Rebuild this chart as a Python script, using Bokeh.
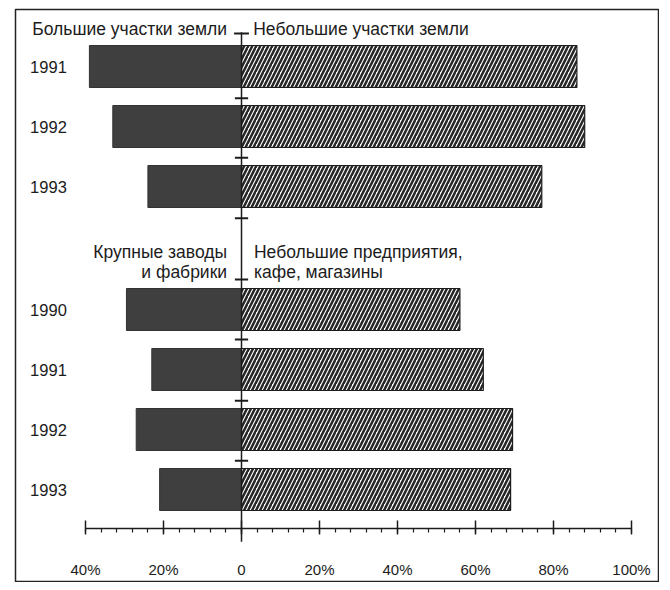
from bokeh.plotting import figure
from bokeh.models import Range1d, FixedTicker
from bokeh.embed import file_html
from bokeh.resources import INLINE
from bokeh.core.properties import value

# ---- data ----
years_land = ["1991", "1992", "1993"]
large_land = [39, 33, 24]          # Большие участки земли, %
small_land = [86, 88, 77]          # Небольшие участки земли, %
years_biz = ["1990", "1991", "1992", "1993"]
large_biz = [29.5, 23, 27, 21]     # Крупные заводы и фабрики, %
small_biz = [56, 62, 69.5, 69]     # Небольшие предприятия, кафе, магазины, %
tick_values = [-40, -20, 0, 20, 40, 60, 80, 100]
tick_labels = ["40%", "20%", "0", "20%", "40%", "60%", "80%", "100%"]
head_land_left = ["Большие участки земли"]
head_land_right = ["Небольшие участки земли"]
head_biz_left = ["Крупные заводы", "и фабрики"]
head_biz_right = ["Небольшие предприятия,", "кафе, магазины"]

# ---- layout ----
ys_land = [0, 1, 2]
ys_biz = [4.05, 5.05, 6.05, 7.05]
FONT = value("Liberation Sans")
INK = "#1c1c1c"

p = figure(width=659, height=582, output_backend="svg", toolbar_location=None,
           x_range=Range1d(-57.95, 107.18), y_range=Range1d(8.6, -0.95),
           min_border=0, min_border_left=15, min_border_top=9)
p.grid.visible = False
p.yaxis.visible = False
p.background_fill_color = "white"
p.border_fill_color = "white"
p.outline_line_color = "#222222"
p.outline_line_width = 1.5

dark = dict(fill_color="#3f3f3f", line_color="#333333", line_width=1)
hatch = dict(fill_color="white", line_color="#1c1c1c", line_width=1.2,
             hatch_pattern="right_diagonal_line", hatch_color="#262626", hatch_scale=8, hatch_weight=2.5)

p.hbar(y=ys_land, left=[-v for v in large_land], right=0, height=0.7, **dark)
p.hbar(y=ys_land, left=0, right=small_land, height=0.7, **hatch)
p.hbar(y=ys_biz, left=[-v for v in large_biz], right=0, height=0.7, **dark)
p.hbar(y=ys_biz, left=0, right=small_biz, height=0.7, **hatch)

# central zero line and its separators
p.segment(x0=[0], y0=[-0.57], x1=[0], y1=[7.92], line_color=INK, line_width=1.5)
sep_y = [-0.55, 0.53, 1.52, 2.53, 3.55, 4.55, 5.57, 6.57]
sep_w = [1.9] + [1.7] * (len(sep_y) - 1)
p.segment(x0=[-w for w in sep_w], y0=sep_y, x1=sep_w, y1=sep_y, line_color=INK, line_width=2)

# year labels
p.text(x=[-49.5] * 3, y=ys_land, text=years_land, text_align="center", text_baseline="middle",
       text_font=FONT, text_font_size="16.5px", text_color=INK)
p.text(x=[-49.5] * 4, y=ys_biz, text=years_biz, text_align="center", text_baseline="middle",
       text_font=FONT, text_font_size="16.5px", text_color=INK)

# headers
p.text(x=[-3.7], y=[-0.63], text=head_land_left, text_align="right", text_baseline="middle",
       text_font=FONT, text_font_size="17.5px", text_color=INK)
p.text(x=[3.0], y=[-0.63], text=head_land_right, text_align="left", text_baseline="middle",
       text_font=FONT, text_font_size="17.5px", text_color=INK)
p.text(x=[-3.7] * 2, y=[3.095, 3.43], text=head_biz_left, text_align="right", text_baseline="middle",
       text_font=FONT, text_font_size="17.5px", text_color=INK)
p.text(x=[3.2] * 2, y=[3.095, 3.43], text=head_biz_right, text_align="left", text_baseline="middle",
       text_font=FONT, text_font_size="17.5px", text_color=INK)

# x axis
ax = p.xaxis[0]
ax.fixed_location = 7.7
ax.bounds = (-40, 100)
ax.ticker = FixedTicker(ticks=tick_values, minor_ticks=list(range(-40, 101, 4)))
ax.major_label_overrides = {t: l for t, l in zip(tick_values, tick_labels)}
ax.axis_line_color = INK
ax.axis_line_width = 1.5
ax.major_tick_line_color = INK
ax.major_tick_line_width = 1.5
ax.major_tick_in = 8
ax.major_tick_out = 6
ax.minor_tick_line_color = INK
ax.minor_tick_line_width = 1.2
ax.minor_tick_in = 0
ax.minor_tick_out = 4
ax.major_label_standoff = 26
ax.major_label_text_font = "Liberation Sans"
ax.major_label_text_font_size = "15px"
ax.major_label_text_color = INK

open("out.html", "w").write(file_html(p, INLINE))
